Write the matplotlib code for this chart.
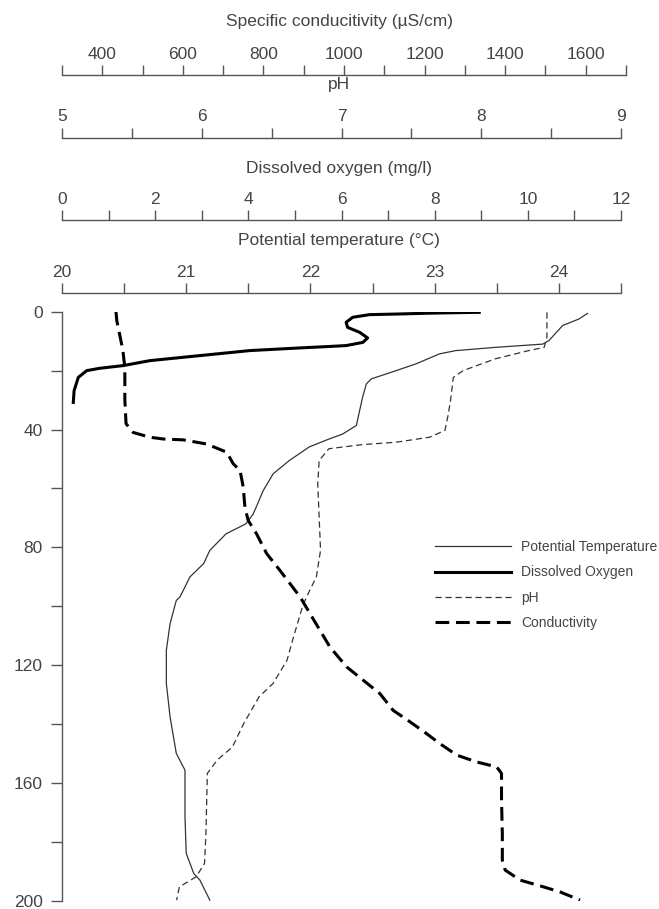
import matplotlib
matplotlib.use("Agg")
import matplotlib.pyplot as plt
from matplotlib.lines import Line2D

plt.rcParams['font.family'] = ['Liberation Sans', 'DejaVu Sans']

# Profiles (depth in m)
cond_depth = [0, 3, 13, 19, 30, 38, 41, 42.6, 43.2, 43.5, 44.9, 47.7, 51.6, 53.9, 59.6, 66.3, 70.8, 75.4,
              82.1, 87.8, 96.8, 113.8, 120.6, 125.1, 129.6, 135.3, 139.2, 143.2, 146.6, 150.5, 152.8, 154.5,
              156.7, 165.8, 177.1, 186.1, 189.5, 192.9, 195.2, 196.9, 199.7]
cond_vals = [434, 436, 451, 456, 456, 459, 477, 518, 551, 601, 659, 709, 725, 742, 750, 754, 762, 783,
             808, 841, 891, 965, 1007, 1048, 1089, 1122, 1164, 1205, 1238, 1280, 1329, 1379,
             1391, 1391, 1393, 1393, 1400, 1437, 1495, 1536, 1586]

do_depth = [0.2, 0.3, 0.5, 0.8, 1.0, 1.9, 3.6, 5.3, 7.0, 8.9, 10.4, 11.5, 11.8, 12.3, 13.2, 14.9, 16.6,
            18.3, 19.2, 20.0, 22.3, 26.8, 31.3]
do_vals = [8.99, 8.6, 7.89, 7.17, 6.6, 6.24, 6.1, 6.13, 6.39, 6.56, 6.46, 6.1, 5.74, 5.1, 4.03, 2.96, 1.89,
           1.31, 0.81, 0.53, 0.35, 0.26, 0.24]

temp_depth = [0.6, 2.5, 4.7, 7.0, 9.8, 11.0, 12.1, 13.2, 14.3, 17.7, 20.0, 22.8, 24.5, 29.0, 34.7, 38.6,
              41.5, 43.2, 45.9, 50.5, 55.0, 60.7, 68.6, 72.0, 75.4, 81.0, 85.5, 90.0, 96.8, 98.0, 105.9,
              114.9, 126.2, 137.5, 149.9, 155.6, 171.4, 183.8, 190.6, 192.9, 199.7]
temp_vals = [24.23, 24.16, 24.03, 23.98, 23.92, 23.87, 23.49, 23.17, 23.04, 22.85, 22.69, 22.49, 22.45,
             22.42, 22.39, 22.37, 22.26, 22.15, 21.99, 21.83, 21.70, 21.62, 21.54, 21.48, 21.32, 21.19,
             21.14, 21.03, 20.95, 20.92, 20.87, 20.84, 20.84, 20.87, 20.92, 20.99, 20.99, 21.0, 21.06,
             21.11, 21.19]

ph_depth = [0.2, 8.7, 12.1, 13.2, 16.0, 20.0, 22.3, 30.2, 35.8, 40.3, 42.6, 44.3, 45.1, 46.5, 50.5, 58.4,
            69.7, 81.0, 90.0, 96.8, 100.2, 111.5, 118.3, 126.2, 130.7, 139.8, 147.7, 152.2, 156.7, 177.1,
            187.2, 191.8, 195.2, 199.7]
ph_vals = [8.47, 8.47, 8.45, 8.34, 8.10, 7.87, 7.80, 7.78, 7.76, 7.74, 7.63, 7.39, 7.15, 6.91, 6.84, 6.83,
           6.84, 6.85, 6.82, 6.75, 6.72, 6.65, 6.61, 6.51, 6.41, 6.30, 6.22, 6.11, 6.04, 6.03,
           6.02, 5.96, 5.84, 5.82]

# top scales: title, limits, tick step, label list, axis line y (px), width (px)
scales = [
    ("Specific conducitivity (\u00b5S/cm)", (300, 1700), 100, [400, 600, 800, 1000, 1200, 1400, 1600], 75, 564),
    ("pH", (5, 9), 0.5, [5, 6, 7, 8, 9], 137.7, 559),
    ("Dissolved oxygen (mg/l)", (0, 12), 1, [0, 2, 4, 6, 8, 10, 12], 220, 559),
    ("Potential temperature (\u00b0C)", (20, 24.5), 0.5, [20, 21, 22, 23, 24], 293, 559),
]
title_y = [21.7, 85, 168, 240]

W, H = 659, 909
ink = '#444444'
axcol = '#555555'
fig = plt.figure(figsize=(W / 100, H / 100), dpi=100)

left = 62
top0, bot0 = 311.7, 901

# depth axis
ax = fig.add_axes([left / W, 1 - bot0 / H, 559 / W, (bot0 - top0) / H])
ax.set_ylim(200, 0)
ax.set_xlim(0, 1)
for s in ['top', 'right', 'bottom']:
    ax.spines[s].set_visible(False)
ax.spines['left'].set_color(axcol)
ax.spines['left'].set_linewidth(1.0)
ax.set_xticks([])
ax.set_yticks(range(0, 201, 20))
ax.set_yticklabels([str(v) if v % 40 == 0 else '' for v in range(0, 201, 20)])
ax.tick_params(axis='y', direction='out', length=8, width=1.0, color=axcol, pad=6,
               labelsize=12.5, labelcolor=ink)
ax.patch.set_alpha(0)

# top scale axes
for (title, lim, step, labs, yl, wpx), ty in zip(scales, title_y):
    sa = fig.add_axes([left / W, 1 - yl / H, wpx / W, 1e-4])
    sa.set_xlim(*lim)
    sa.set_yticks([])
    for s in ['bottom', 'left', 'right']:
        sa.spines[s].set_visible(False)
    sa.spines['top'].set_color(axcol)
    sa.spines['top'].set_linewidth(1.0)
    sa.xaxis.tick_top()
    n = int(round((lim[1] - lim[0]) / step))
    ticks = [lim[0] + i * step for i in range(n + 1)]
    sa.set_xticks(ticks)
    sa.set_xticklabels([('%g' % t) if any(abs(t - l) < 1e-9 for l in labs) else '' for t in ticks])
    sa.tick_params(axis='x', direction='out', length=7.5, width=1.0, color=axcol, pad=2,
                   labelsize=12.5, labelcolor=ink)
    fig.text(339 / W, 1 - ty / H, title, ha='center', va='center', fontsize=12.5, color=ink)


def overlay(xlim, wpx):
    a = fig.add_axes([left / W, 1 - bot0 / H, wpx / W, (bot0 - top0) / H], frameon=False)
    a.set_xlim(*xlim)
    a.set_ylim(200, 0)
    a.set_axis_off()
    return a


a_t = overlay((20, 24.5), 559)
a_t.plot(temp_vals, temp_depth, color='#333333', lw=0.9)
a_d = overlay((0, 12), 559)
a_d.plot(do_vals, do_depth, color='black', lw=2.2, solid_capstyle='butt')
a_p = overlay((5, 9), 559)
a_p.plot(ph_vals, ph_depth, color='#333333', lw=0.9, dashes=(5, 3))
a_c = overlay((300, 1700), 564)
a_c.plot(cond_vals, cond_depth, color='black', lw=2.2, dashes=(4.5, 2.2))

handles = [
    Line2D([], [], color='#333333', lw=0.9),
    Line2D([], [], color='black', lw=2.2),
    Line2D([], [], color='#333333', lw=0.9, dashes=(5, 3)),
    Line2D([], [], color='black', lw=2.2, dashes=(4.5, 2.2)),
]
names = ['Potential Temperature', 'Dissolved Oxygen', 'pH', 'Conductivity']
fig.legend(handles, names, loc='upper left', bbox_to_anchor=(435 / W, 1 - 540 / H),
           frameon=False, fontsize=10, handlelength=5.5, handletextpad=0.7,
           labelspacing=0.82, borderpad=0, borderaxespad=0, labelcolor=ink)

fig.savefig('out.png', dpi=100)
